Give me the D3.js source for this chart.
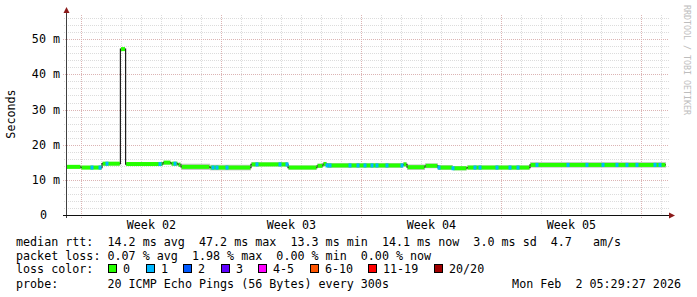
<!DOCTYPE html>
<html>
<head>
<meta charset="utf-8">
<script src="https://cdn.jsdelivr.net/npm/d3@7"></script>
<style>
  html, body { margin: 0; padding: 0; background: #fff; }
  svg text { font-family: "DejaVu Sans Mono", monospace; white-space: pre; }
</style>
</head>
<body>
<svg id="chart" width="697" height="297"></svg>
<script>
// --- data ---
const endTime = Date.UTC(2026, 1, 2, 5, 29, 27);
const spanDays = 30;

// median rtt, step segments: start (days from left edge) and value in ms
const medianDays = [0, 0.75, 1.8, 2.72, 2.98, 4.85, 5.25, 5.6, 5.75, 7.2, 9.25, 11.1, 12.55, 12.85, 13.05, 16.85, 17.05, 17.95, 18.6, 19.35, 20.05, 23.2];
const medianMs   = [13.7, 13.5, 14.6, 47.2, 14.5, 14.9, 14.6, 14.3, 13.7, 13.5, 14.4, 13.5, 14.0, 14.5, 14.1, 14.4, 13.6, 14.0, 13.5, 13.3, 13.5, 14.25];
// smoke spread (ms) around the median per segment
const smokeMs    = [0.5, 0.5, 0.5, 0.3, 0.5, 0.5, 0.5, 0.6, 0.9, 0.8, 0.6, 0.6, 0.6, 0.6, 0.7, 0.6, 0.8, 0.7, 0.7, 0.6, 0.6, 0.8];

// samples with lost pings (days from left edge, pings lost of 20)
const lossDays  = [1.3, 1.7, 2.05, 4.7, 5.45, 7.35, 7.55, 8.05, 9.55, 10.7, 11.05, 13.05, 13.2, 14.2, 14.6, 14.95, 15.3, 15.55, 16.05, 16.8, 18.65, 19.35, 20.45, 20.7, 21.55, 22.2, 22.6, 23.55, 25.1, 26.05, 26.85, 27.55, 28.05, 28.55, 29.45, 29.7];
const lossCount = [1, 1, 1, 1, 1, 1, 1, 1, 1, 1, 1, 1, 1, 1, 1, 1, 1, 1, 1, 1, 1, 1, 1, 1, 1, 1, 1, 1, 1, 1, 1, 1, 1, 1, 1, 1];

const yTicks = [0, 10, 20, 30, 40, 50];
const yTickLabels = ["0", "10 m", "20 m", "30 m", "40 m", "50 m"];

const lossLabels = ["0", "1", "2", "3", "4-5", "6-10", "11-19", "20/20"];
const lossColors = ["#26ff00", "#00b8ff", "#0059ff", "#5e00ff", "#ff00ff", "#ff5500", "#ff0000", "#a00000"];

const legendLines = [
  "median rtt:  14.2 ms avg  47.2 ms max  13.3 ms min  14.1 ms now  3.0 ms sd  4.7   am/s",
  "packet loss: 0.07 % avg  1.98 % max  0.00 % min  0.00 % now",
  "loss color:",
  "probe:       20 ICMP Echo Pings (56 Bytes) every 300s"
];
const stampText = "Mon Feb  2 05:29:27 2026";

// --- chart ---
const svg = d3.select('#chart');
const plotL = 66, plotR = 666, plotT = 15, plotB = 215;
const dayMs = 86400000;
const startTime = endTime - spanDays * dayMs;
const atDay = (d) => new Date(startTime + d * dayMs);

const x = d3.scaleUtc().domain([new Date(startTime), new Date(endTime)]).range([plotL, plotR]);
const y = d3.scaleLinear().domain([0, 56.9]).range([plotB, plotT]);

const gridMinor = '#dcdcdc', gridMajor = '#dcb4b4';

// horizontal grid
const grid = svg.append('g').attr('shape-rendering', 'crispEdges');
const minorY = d3.range(2, 57, 2).filter(v => v % 10 !== 0);
grid.selectAll('line.hmin').data(minorY).enter().append('line')
    .attr('x1', plotL - 2).attr('x2', plotR + 3)
    .attr('y1', d => Math.round(y(d)) + 0.5).attr('y2', d => Math.round(y(d)) + 0.5)
    .attr('stroke', gridMinor).attr('stroke-dasharray', '1,1');

// vertical grid: days / weeks (weeks start Sunday)
const days = d3.utcDay.range(x.domain()[0], x.domain()[1]);
const weeks = d3.utcSunday.range(x.domain()[0], x.domain()[1]);
const isWeek = (d) => d.getUTCDay() === 0;
grid.selectAll('line.vmin').data(days.filter(d => !isWeek(d))).enter().append('line')
    .attr('x1', d => Math.round(x(d)) + 0.5).attr('x2', d => Math.round(x(d)) + 0.5)
    .attr('y1', plotT).attr('y2', plotB + 2)
    .attr('stroke', gridMinor).attr('stroke-dasharray', '1,1');
grid.selectAll('line.vmaj').data(weeks).enter().append('line')
    .attr('x1', d => Math.round(x(d)) + 0.5).attr('x2', d => Math.round(x(d)) + 0.5)
    .attr('y1', plotT).attr('y2', plotB + 3)
    .attr('stroke', gridMajor).attr('stroke-dasharray', '1,1');
grid.selectAll('line.hmaj').data(yTicks.filter(v => v > 0)).enter().append('line')
    .attr('x1', plotL - 3).attr('x2', plotR + 3)
    .attr('y1', d => Math.round(y(d)) + 0.5).attr('y2', d => Math.round(y(d)) + 0.5)
    .attr('stroke', gridMajor).attr('stroke-dasharray', '1,1');

// segments built from the arrays
const segs = medianDays.map((d, i) => ({
  t0: atDay(d),
  t1: atDay(i + 1 < medianDays.length ? medianDays[i + 1] : spanDays),
  v: medianMs[i],
  s: smokeMs[i]
}));

// smoke
svg.append('g').selectAll('rect').data(segs).enter().append('rect')
    .attr('x', d => x(d.t0)).attr('width', d => x(d.t1) - x(d.t0))
    .attr('y', d => y(d.v + d.s)).attr('height', d => y(d.v - d.s) - y(d.v + d.s))
    .attr('fill', '#c8c8c8');

// median line (dark, shows at the steps)
const pts = [];
segs.forEach(s => { pts.push([s.t0, s.v]); });
pts.push([atDay(spanDays), medianMs[medianMs.length - 1]]);
const line = d3.line().x(d => x(d[0])).y(d => y(d[1])).curve(d3.curveStepAfter);
svg.append('path').datum(pts).attr('d', line)
    .attr('fill', 'none').attr('stroke', '#202020').attr('stroke-width', 1.2);

// loss colour band around the median
const halfBand = 0.57;
svg.append('g').selectAll('rect').data(segs).enter().append('rect')
    .attr('x', d => x(d.t0) + 0.6).attr('width', d => Math.max(0, x(d.t1) - x(d.t0) - 1.2))
    .attr('y', d => y(d.v + halfBand)).attr('height', d => y(d.v - halfBand) - y(d.v + halfBand))
    .attr('fill', lossColors[0]);

const medianAt = (day) => {
  let i = d3.bisectRight(medianDays, day) - 1;
  return medianMs[Math.max(0, i)];
};
const lossColor = (n) => n <= 3 ? lossColors[n] : n <= 5 ? lossColors[4] : n <= 10 ? lossColors[5] : n < 20 ? lossColors[6] : lossColors[7];
svg.append('g').selectAll('rect').data(lossDays.map((d, i) => ({ d: d, n: lossCount[i] }))).enter().append('rect')
    .attr('x', d => x(atDay(d.d)) - 1.5).attr('width', 3)
    .attr('y', d => y(medianAt(d.d) + halfBand)).attr('height', d => y(medianAt(d.d) - halfBand) - y(medianAt(d.d) + halfBand))
    .attr('fill', d => lossColor(d.n));

// axes
svg.append('line').attr('x1', plotL + 0.5).attr('x2', plotL + 0.5).attr('y1', plotB + 3).attr('y2', 11)
    .attr('stroke', '#404040').attr('shape-rendering', 'crispEdges');
svg.append('line').attr('x1', plotL - 3).attr('x2', 670).attr('y1', plotB + 0.5).attr('y2', plotB + 0.5)
    .attr('stroke', '#101010').attr('shape-rendering', 'crispEdges');
const arrowCol = '#8b1a1a';
svg.append('path').attr('d', `M${plotL + 0.5},7 L${plotL + 3.5},13 L${plotL - 2.5},13 Z`).attr('fill', arrowCol);
svg.append('path').attr('d', `M675,${plotB + 0.5} L669,${plotB - 2.5} L669,${plotB + 3.5} Z`).attr('fill', arrowCol);

const fs = '11.7px';
// y labels
svg.append('g').selectAll('text').data(yTicks).enter().append('text')
    .attr('x', (d, i) => i === 0 ? 47 : 60).attr('y', d => y(d) + 4)
    .attr('text-anchor', 'end').attr('font-size', fs)
    .text((d, i) => yTickLabels[i]);

svg.append('text').attr('transform', 'translate(15,114) rotate(-90)')
    .attr('text-anchor', 'middle').attr('font-size', fs).text('Seconds');

// week labels at mid-week
const fmtWeek = d3.utcFormat('Week %V');
svg.append('g').selectAll('text').data(weeks.slice(0, -1)).enter().append('text')
    .attr('x', d => x(new Date(+d + 3.5 * dayMs))).attr('y', 229)
    .attr('text-anchor', 'middle').attr('font-size', fs)
    .text(d => fmtWeek(new Date(+d + 3.5 * dayMs)));

// watermark
svg.append('text').attr('transform', 'translate(684,5) rotate(90)')
    .attr('font-size', '8.3px').attr('fill', '#bdbdbd').text('RRDTOOL / TOBI OETIKER');

// legend text
const lineY = [245.5, 259.5, 273, 287.5];
svg.append('g').selectAll('text').data(legendLines).enter().append('text')
    .attr('x', 16).attr('y', (d, i) => lineY[i]).attr('font-size', fs).text(d => d);
svg.append('text').attr('x', 681).attr('y', lineY[3]).attr('text-anchor', 'end')
    .attr('font-size', fs).text(stampText);

// loss colour boxes
let bx = 108;
const boxes = lossLabels.map((lab) => {
  const o = { x: bx, lab: lab };
  bx += 15 + lab.length * 7 + 15.5;
  return o;
});
const lg = svg.append('g');
lg.selectAll('rect').data(boxes).enter().append('rect')
    .attr('x', (d, i) => Math.round(d.x) + 0.5).attr('y', 264.5).attr('width', 8).attr('height', 8)
    .attr('fill', (d, i) => lossColors[i]).attr('stroke', '#000');
lg.selectAll('text').data(boxes).enter().append('text')
    .attr('x', d => Math.round(d.x) + 15).attr('y', lineY[2]).attr('font-size', fs).text(d => d.lab);
</script>
</body>
</html>
